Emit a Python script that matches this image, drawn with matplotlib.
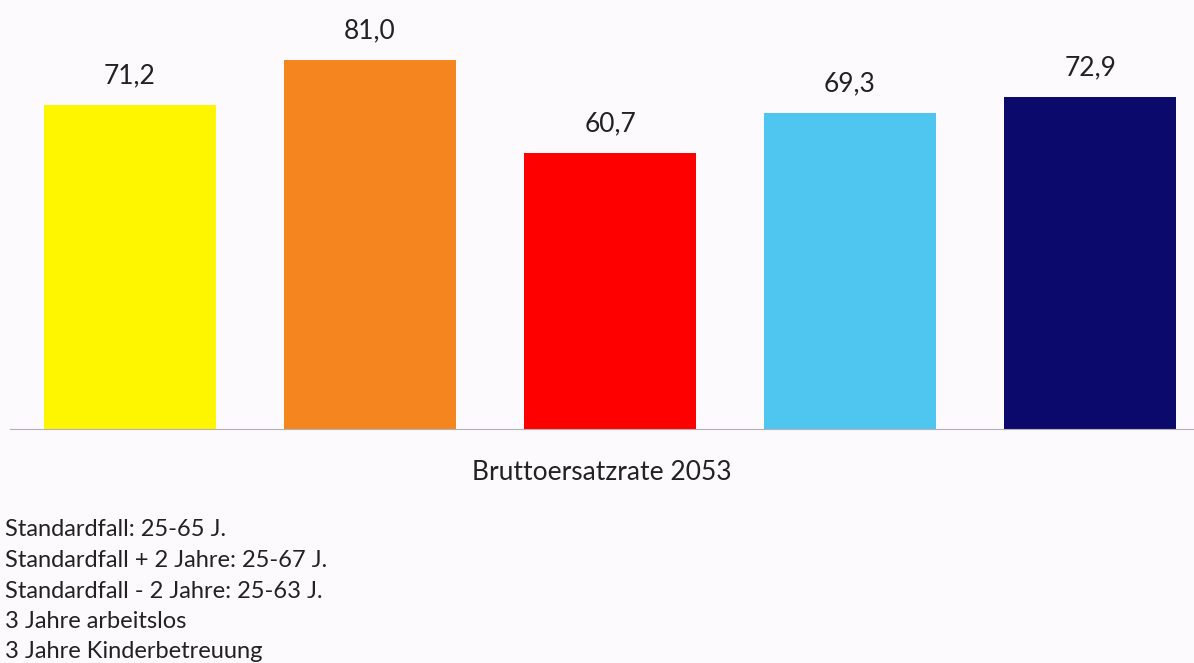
import matplotlib.pyplot as plt

plt.rcParams['font.family'] = ['Lato', 'DejaVu Sans']

categories = ['Standardfall: 25-65 J.', 'Standardfall + 2 Jahre: 25-67 J.',
              'Standardfall - 2 Jahre: 25-63 J.', '3 Jahre arbeitslos',
              '3 Jahre Kinderbetreuung']
values = [71.2, 81.0, 60.7, 69.3, 72.9]
colors = ['#fef500', '#f5861f', '#fe0000', '#4ec6ef', '#0b0a6c']
bg = '#fcfafc'

fig = plt.figure(figsize=(11.94, 6.63), dpi=100, facecolor=bg)
ax = fig.add_axes([10 / 1194, 234 / 663, 1184 / 1194, 429 / 663], facecolor=bg)

x = list(range(len(values)))
bars = ax.bar(x, values, width=172 / 240, color=colors)
for b, v in zip(bars, values):
    ax.annotate(f'{v:.1f}'.replace('.', ','), (b.get_x() + b.get_width() / 2, v),
                xytext=(0, 12), textcoords='offset points', ha='center', va='bottom',
                fontsize=19, color='#222222')

ax.set_xlim(-0.5, 4.433)
ax.set_ylim(0, 94.2)
for s in ['top', 'right', 'left']:
    ax.spines[s].set_visible(False)
ax.spines['bottom'].set_color('#b8b0b8')
ax.set_xticks([])
ax.set_yticks([])
ax.set_xlabel('Bruttoersatzrate 2053', fontsize=19, color='#222222', labelpad=22)

for i, c in enumerate(categories):
    fig.text(5 / 1194, 1 - (530 + 30.5 * i) / 663, c, fontsize=17, color='#222222',
             va='center', ha='left')

fig.savefig('out.png', dpi=100, facecolor=bg)
